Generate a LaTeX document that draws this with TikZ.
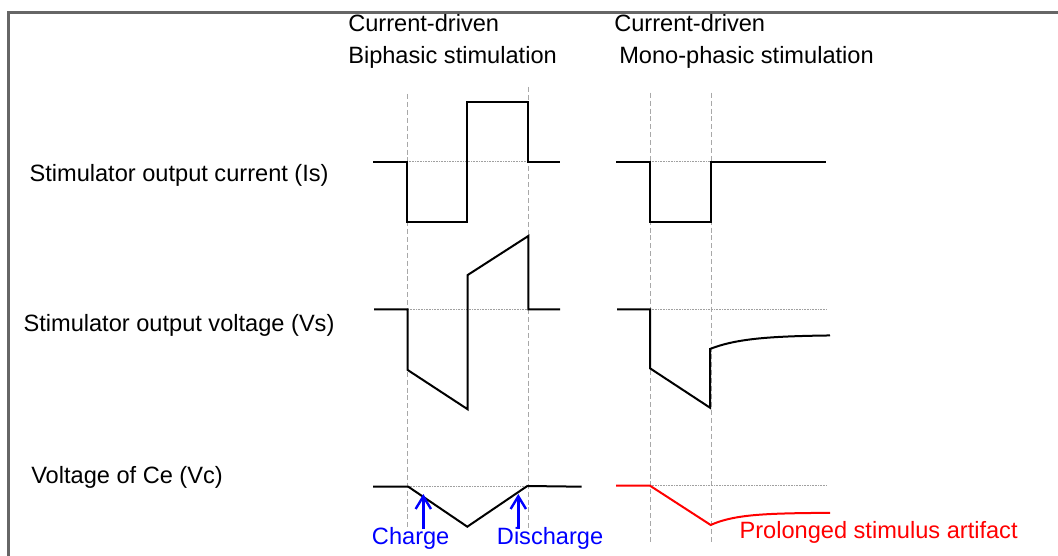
\documentclass[tikz,border=0pt]{standalone}
\usepackage{fontspec}
\setmainfont{Liberation Sans}
\usetikzlibrary{arrows.meta}
\definecolor{framegray}{HTML}{666666}
\definecolor{guidegray}{HTML}{A8A8A8}
\definecolor{basegray}{HTML}{A0A0A0}
\definecolor{pureblue}{RGB}{0,0,255}
\definecolor{purered}{RGB}{255,0,0}
\begin{document}
\begin{tikzpicture}[x=0.75pt,y=-0.75pt,
  lbl/.style={anchor=base west, inner sep=0pt, font=\fontsize{17.7}{21}\selectfont},
  wave/.style={line width=1.5pt, line join=miter, line cap=butt},
  guide/.style={draw=guidegray, line width=0.7pt, dash pattern=on 3.75pt off 2.2pt},
  zeroline/.style={draw=basegray, line width=0.6pt, dash pattern=on 0.6pt off 0.6pt},
  chargearrow/.style={draw=pureblue, line width=2pt, -{Straight Barb[length=9.5pt,width=11.5pt,line width=1.8pt]}}]
\useasboundingbox (0,0) rectangle (1058,556);
\fill[white] (0,0) rectangle (1058,556);
% frame (top and left edges)
\draw[framegray, line width=2pt] (8.7,556) -- (8.7,12.8) -- (1058,12.8);

% titles
\node[lbl] (t1a) at (348,31.7) {Current-driven};
\node[lbl] (t1b) at (348,63.3) {Biphasic stimulation};
\node[lbl] (t2a) at (614,31.7) {Current-driven};
\node[lbl] (t2b) at (619,63.3) {Mono-phasic stimulation};

% row labels
\node[lbl] (ls) at (29.3,181.7) {Stimulator output current (Is)};
\node[lbl] (lv) at (23.3,331.7) {Stimulator output voltage (Vs)};
\node[lbl] (lc) at (31,483) {Voltage of Ce (Vc)};

% guides
\draw[guide] (407.5,94) -- (407.5,528);
\draw[guide] (528.5,87) -- (528.5,528);
\draw[guide] (650.5,92.7) -- (650.5,543);
\draw[guide] (711,92.7) -- (711,543);

% zero lines
\draw[zeroline] (407,161.7) -- (528,161.7);
\draw[zeroline] (650,161.7) -- (711,161.7);
\draw[zeroline] (408,309.3) -- (528,309.3);
\draw[zeroline] (650,309.3) -- (826.7,309.3);
\draw[zeroline] (408,486.7) -- (527,486.7);
\draw[zeroline] (650,485.7) -- (826.7,485.7);

% biphasic current
\draw[wave] (373,161.7) -- (407,161.7) -- (407,221.7) -- (466.7,221.7) -- (466.7,101.7)
  -- (527.7,101.7) -- (527.7,161.7) -- (560,161.7);
% monophasic current
\draw[wave] (616,161.7) -- (650,161.7) -- (650,221.7) -- (710.7,221.7) -- (710.7,161.7) -- (826,161.7);

% biphasic voltage
\draw[wave] (374,309.3) -- (407.7,309.3) -- (407.7,370) -- (467.7,409.3) -- (467.7,275)
  -- (528.3,236) -- (528.3,309.3) -- (560,309.3);
% monophasic voltage
\draw[wave] (617,309.3) -- (650,309.3) -- (650,368.3) -- (710,407.7) -- (710,349)
  -- plot[domain=710:830, samples=60] (\x, {335+14*exp(-(\x-710)/35)});

% biphasic capacitor voltage
\draw[wave] (373,486.7) -- (408.3,486.7) -- (467.3,526.7) -- (527.3,486) -- (581.7,486.7);
% monophasic capacitor voltage
\draw[wave, purered] (616,485.7) -- (650,485.7) -- (710.7,525)
  -- plot[domain=710.7:830, samples=60] (\x, {512.7+12.3*exp(-(\x-710.7)/27)});

% annotations
\coordinate (chtail) at (423.3,529);
\coordinate (chhead) at (423.3,494);
\coordinate (dctail) at (518.3,529);
\coordinate (dchead) at (518.3,494);
\draw[chargearrow] (chtail) -- (chhead);
\draw[chargearrow] (dctail) -- (dchead);
\node[lbl, text=pureblue] (charge) at (371.7,544) {Charge};
\node[lbl, text=pureblue] (discharge) at (496.7,544) {Discharge};
\node[lbl, text=purered] (artifact) at (739.3,538.3) {Prolonged stimulus artifact};
\end{tikzpicture}
\end{document}
